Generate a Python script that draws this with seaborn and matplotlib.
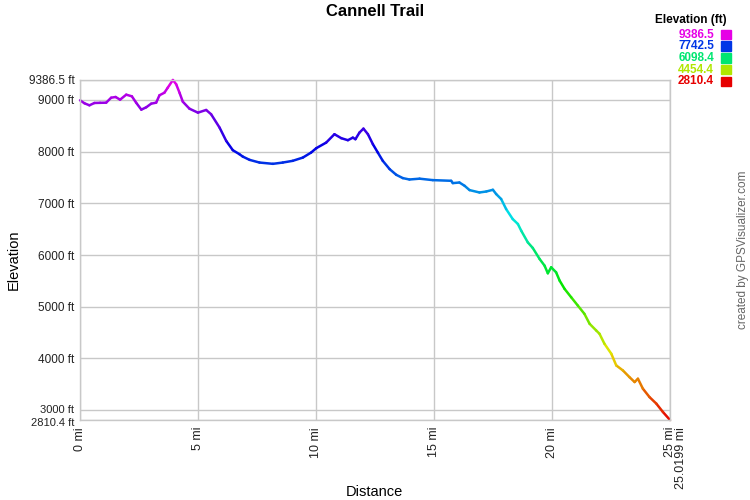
import matplotlib
matplotlib.use("Agg")
import matplotlib.pyplot as plt
import matplotlib.colors as mcolors
import matplotlib.transforms as mtransforms
import numpy as np
import pandas as pd
import seaborn as sns

# elevation profile (miles, feet)
dist_mi = [0.00, 0.19, 0.40, 0.61, 0.85, 1.11, 1.32, 1.51, 1.70, 1.96, 2.20, 2.38, 2.60,
           2.81, 3.02, 3.23, 3.37, 3.58, 3.72, 3.94, 4.08, 4.22, 4.36, 4.64, 5.00, 5.35,
           5.56, 5.92, 6.20, 6.48, 6.76, 6.90, 7.19, 7.61, 8.18, 8.60, 9.02, 9.45, 9.80,
           10.02, 10.44, 10.79, 11.08, 11.36, 11.57, 11.68, 11.85, 12.02, 12.21, 12.42,
           12.63, 12.84, 13.13, 13.41, 13.69, 13.97, 14.40, 14.96, 15.74, 15.81, 16.09,
           16.31, 16.52, 16.94, 17.23, 17.51, 17.65, 17.86, 18.07, 18.35, 18.57, 18.71,
           18.99, 19.20, 19.49, 19.70, 19.84, 19.98, 20.19, 20.34, 20.55, 20.83, 21.11,
           21.39, 21.61, 21.89, 22.03, 22.24, 22.53, 22.74, 23.02, 23.30, 23.52, 23.66,
           23.87, 24.15, 24.44, 24.72, 25.0199]
elev_ft = [8994, 8936, 8897, 8942, 8945, 8948, 9044, 9058, 9006, 9103, 9071, 8948, 8813,
           8859, 8929, 8948, 9091, 9141, 9237, 9386.5, 9303, 9141, 8967, 8832, 8755, 8807,
           8724, 8465, 8209, 8029, 7952, 7906, 7842, 7790, 7765, 7790, 7823, 7886, 7983,
           8068, 8176, 8338, 8261, 8222, 8272, 8241, 8369, 8446, 8338, 8145,
           7983, 7823, 7663, 7553, 7489, 7462, 7478, 7450, 7437, 7392, 7404,
           7340, 7257, 7211, 7230, 7263, 7180, 7084, 6891, 6697, 6601, 6472,
           6246, 6138, 5925, 5796, 5648, 5764, 5667, 5506, 5346, 5184, 5024,
           4864, 4671, 4542, 4478, 4285, 4092, 3866, 3770, 3640, 3544, 3609,
           3416, 3254, 3127, 2965, 2810.4]

x_ticks = [0, 5, 10, 15, 20, 25, 25.0199]
x_labels = ["0 mi", "5 mi", "10 mi", "15 mi", "20 mi", "25 mi", "25.0199 mi"]
y_ticks = [2810.4, 3000, 4000, 5000, 6000, 7000, 8000, 9000, 9386.5]
y_labels = ["2810.4 ft", "3000 ft", "4000 ft", "5000 ft", "6000 ft", "7000 ft",
            "8000 ft", "9000 ft", "9386.5 ft"]
legend_values = [9386.5, 7742.5, 6098.4, 4454.4, 2810.4]

ELEV_MIN, ELEV_MAX = 2810.4, 9386.5
GRID = "#c8c8c8"

sns.set_theme(style="whitegrid")
plt.rcParams["font.family"] = ["Liberation Sans", "DejaVu Sans"]

# red -> yellow -> green -> cyan -> blue -> magenta, like the GPSVisualizer ramp
hues = np.linspace(0, 300 / 360, 256)
hsv = np.stack([hues, np.ones_like(hues), np.full_like(hues, 0.9)], axis=1)
elev_cmap = mcolors.ListedColormap(mcolors.hsv_to_rgb(hsv))

# one short line per segment so each can carry its own elevation colour
rows = []
for i in range(len(dist_mi) - 1):
    level = (elev_ft[i] + elev_ft[i + 1]) / 2
    rows.append({"seg": i, "dist": dist_mi[i], "elev": elev_ft[i], "level": level})
    rows.append({"seg": i, "dist": dist_mi[i + 1], "elev": elev_ft[i + 1], "level": level})
segments = pd.DataFrame(rows)

fig = plt.figure(figsize=(7.5, 5), dpi=100)
ax = fig.add_axes([80 / 750, 80 / 500, 590 / 750, 340 / 500])

sns.lineplot(data=segments, x="dist", y="elev", hue="level", units="seg", estimator=None,
             palette=elev_cmap, hue_norm=(ELEV_MIN, ELEV_MAX), legend=False,
             linewidth=1.8, ax=ax, sort=False)
for line in ax.lines:
    line.set_solid_capstyle("round")
    line.set_clip_on(False)

ax.set_xlim(0, 25.0199)
ax.set_ylim(ELEV_MIN, ELEV_MAX)
ax.set_xticks(x_ticks)
ax.set_xticklabels(x_labels, rotation=90, fontsize=9, color="#222222")
ax.set_yticks(y_ticks)
ax.set_yticklabels(y_labels, fontsize=8.5, color="#222222")
ax.tick_params(axis="both", length=0)
ax.tick_params(axis="x", pad=5)
ax.tick_params(axis="y", pad=4)
ax.grid(True, color=GRID, linewidth=1)
for spine in ax.spines.values():
    spine.set_color(GRID)
    spine.set_linewidth(1)

# nudge the end-distance label so it doesn't sit on top of "25 mi"
last = ax.get_xticklabels()[-1]
last.set_transform(last.get_transform() + mtransforms.ScaledTranslation(0.11, 0, fig.dpi_scale_trans))
# the two lowest elevation labels are only 10 px apart; spread them a touch
ylabs = ax.get_yticklabels()
ylabs[0].set_fontsize(8)
ylabs[1].set_fontsize(8)
ylabs[0].set_transform(ylabs[0].get_transform() + mtransforms.ScaledTranslation(0, -0.015, fig.dpi_scale_trans))
ylabs[1].set_transform(ylabs[1].get_transform() + mtransforms.ScaledTranslation(0, 0.015, fig.dpi_scale_trans))

ax.set_xlabel("")
ax.set_ylabel("")
fig.text(375 / 750, 1 - 12 / 500, "Cannell Trail", ha="center", va="center",
         fontsize=12, fontweight="bold", color="black")
fig.text(374 / 750, 1 - 492 / 500, "Distance", ha="center", va="center", fontsize=10.5,
         color="black")
fig.text(14 / 750, 1 - 260 / 500, "Elevation", ha="center", va="center", rotation=90,
         fontsize=10.5, color="black")
fig.text(743 / 750, 1 - 250 / 500, "created by GPSVisualizer.com", ha="center",
         va="center", rotation=90, fontsize=8.5, color="#666666")

# colour key in the top right corner
fig.text(727 / 750, 1 - 20 / 500, "Elevation (ft)", ha="right", va="center",
         fontsize=8.5, fontweight="bold", color="black")
norm = mcolors.Normalize(ELEV_MIN, ELEV_MAX)
for i, val in enumerate(legend_values):
    yc = 1 - (34.5 + i * 11.75) / 500
    col = elev_cmap(norm(val))
    fig.text(714 / 750, yc, f"{val:.1f}", ha="right", va="center", fontsize=8.5,
             fontweight="bold", color=col)
    fig.patches.append(plt.Rectangle((721 / 750, yc - 4.75 / 500), 10 / 750, 9.5 / 500,
                                     transform=fig.transFigure, color=col, figure=fig))

fig.savefig("out.png", dpi=100)
